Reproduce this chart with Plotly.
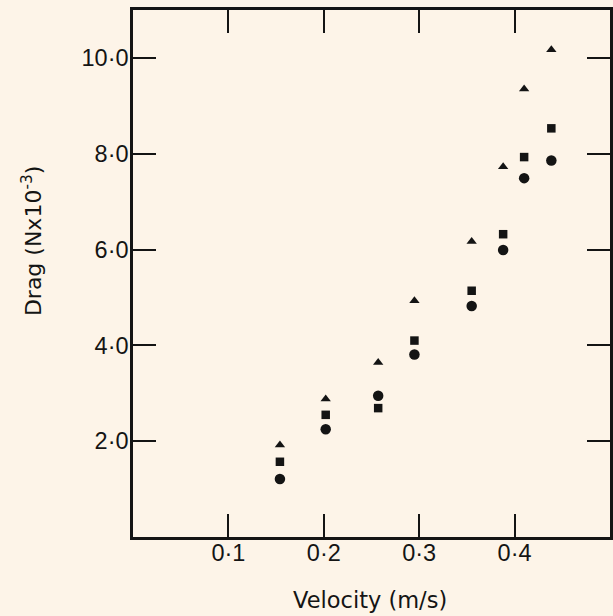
import plotly.graph_objects as go

velocity = [0.154, 0.202, 0.257, 0.295, 0.355, 0.388, 0.410, 0.4385]
drag_triangle = [1.92, 2.88, 3.64, 4.93, 6.17, 7.73, 9.35, 10.17]
drag_square = [1.57, 2.55, 2.69, 4.10, 5.14, 6.32, 7.93, 8.53]
drag_circle = [1.21, 2.25, 2.95, 3.81, 4.82, 5.99, 7.49, 7.86]

x_tickvals = [0.1, 0.2, 0.3, 0.4]
x_ticktext = ["0·1", "0·2", "0·3", "0·4"]
y_tickvals = [2, 4, 6, 8, 10]
y_ticktext = ["2·0", "4·0", "6·0", "8·0", "10·0"]

ink = "#141414"
bg = "#fdf4e8"
tick_font = "Liberation Sans, Arial, sans-serif"
title_font = "DejaVu Sans, sans-serif"

fig = go.Figure()
fig.add_trace(go.Scatter(x=velocity, y=drag_triangle, mode="markers",
                         marker=dict(symbol="triangle-up", size=9, color=ink, line=dict(width=0))))
fig.add_trace(go.Scatter(x=velocity, y=drag_square, mode="markers",
                         marker=dict(symbol="square", size=8.5, color=ink, line=dict(width=0))))
fig.add_trace(go.Scatter(x=velocity, y=drag_circle, mode="markers",
                         marker=dict(symbol="circle", size=10.5, color=ink, line=dict(width=0))))

axis_common = dict(showline=True, linewidth=2.5, linecolor=ink, mirror="ticks",
                   ticks="inside", ticklen=23, tickwidth=2, tickcolor=ink,
                   showgrid=False, zeroline=False,
                   tickfont=dict(family=tick_font, size=23.5, color=ink))

fig.update_xaxes(range=[0, 0.5], tickvals=x_tickvals, ticktext=x_ticktext,
                 ticklabelstandoff=-7, **axis_common)
fig.update_yaxes(range=[0, 11], tickvals=y_tickvals, ticktext=y_ticktext,
                 ticklabelstandoff=-3, **axis_common)

fig.add_annotation(text="Velocity (m/s)", xref="paper", yref="paper",
                   x=0.497, y=-0.1195, xanchor="center", yanchor="middle",
                   showarrow=False, font=dict(family=title_font, size=22.5, color=ink))
fig.add_annotation(text="Drag (Nx10<sup>-3</sup>)", xref="paper", yref="paper",
                   x=-0.2115, y=0.5617, xanchor="center", yanchor="middle",
                   textangle=-90, showarrow=False,
                   font=dict(family=title_font, size=22, color=ink))

fig.update_layout(width=613, height=616, showlegend=False,
                  margin=dict(l=133, r=0, t=10, b=79),
                  paper_bgcolor=bg, plot_bgcolor=bg)

fig.write_html("out.html", config={"displayModeBar": False},
               post_script="document.body.style.margin='0';document.body.style.overflow='hidden';")
